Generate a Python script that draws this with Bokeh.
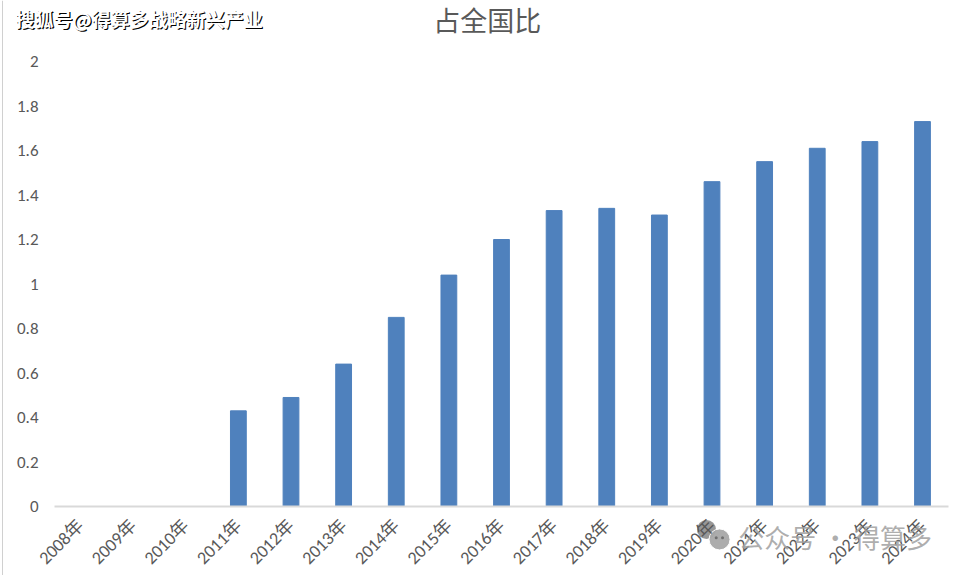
from bokeh.plotting import figure
from bokeh.models import Range1d, Label, FixedTicker, Span
from bokeh.embed import file_html
from bokeh.resources import INLINE
import math

years = ["2008年", "2009年", "2010年", "2011年", "2012年", "2013年", "2014年", "2015年",
         "2016年", "2017年", "2018年", "2019年", "2020年", "2021年", "2022年", "2023年", "2024年"]
share = [0, 0, 0, 0.43, 0.49, 0.64, 0.85, 1.04, 1.20, 1.33, 1.34, 1.31, 1.46, 1.55, 1.61, 1.64, 1.73]
y_ticks = [0, 0.2, 0.4, 0.6, 0.8, 1.0, 1.2, 1.4, 1.6, 1.8, 2.0]
title_text = "占全国比"
watermark_top = "搜狐号@得算多战略新兴产业"
watermark_bottom = "公众号 · 得算多"

xs = list(range(len(years)))
FONT = "Calibri, Carlito, Lato, 'Noto Sans CJK SC'"
CJK = "'Noto Sans CJK SC'"

# frame covers the whole canvas; axes are pinned with fixed_location
p = figure(width=950, height=575, output_backend="svg", toolbar_location=None,
           x_range=Range1d(-1.5202, 16.532), y_range=Range1d(-0.3101, 2.2742),
           min_border=0)
p.outline_line_color = None
p.grid.visible = False
p.background_fill_color = "white"
p.border_fill_color = "white"

p.vbar(x=xs, top=share, width=0.3, color="#4f81bd")

# y axis
p.yaxis.fixed_location = -0.494
p.yaxis.ticker = FixedTicker(ticks=y_ticks)
p.yaxis.axis_line_color = None
p.yaxis.major_tick_line_color = None
p.yaxis.minor_tick_line_color = None
p.yaxis.major_label_text_color = "#595959"
p.yaxis.major_label_text_font = FONT
p.yaxis.major_label_text_font_size = "17px"
p.yaxis.major_label_standoff = 10
p.yaxis.formatter.use_scientific = False

# x axis
p.xaxis.fixed_location = 0
p.xaxis.bounds = (-0.494, 16.5)
p.xaxis.ticker = FixedTicker(ticks=xs)
p.xaxis.major_label_overrides = {i: y for i, y in zip(xs, years)}
p.xaxis.axis_line_color = "#d9d9d9"
p.xaxis.axis_line_width = 2
p.xaxis.major_tick_line_color = None
p.xaxis.minor_tick_line_color = None
p.xaxis.major_label_orientation = math.pi / 4
p.xaxis.major_label_text_color = "#595959"
p.xaxis.major_label_text_font = FONT
p.xaxis.major_label_text_font_size = "18px"
p.xaxis.major_label_standoff = 10

# left border line of the picture
p.add_layout(Span(location=-1.482, dimension="height", line_color="#d0d0d0", line_width=1))

# title
p.add_layout(Label(x=7.73, y=2.187, text=title_text, text_align="center", text_baseline="middle",
                   text_font=CJK, text_font_size="27px", text_color="#595959"))

# top-left watermark (shadow + white)
for dx, col in [(1.2, "#000000"), (0, "#ffffff")]:
    p.add_layout(Label(x=-1.235 + dx / 52.625, y=2.195 - dx / 222.5, text=watermark_top,
                       text_align="left", text_baseline="middle",
                       text_font=CJK, text_font_style="bold",
                       text_font_size="19px", text_color=col))

# bottom-right watermark (icon + text)
p.scatter(x=[11.895], y=[-0.103], size=19, fill_color="#8c8c8c", line_color=None, alpha=0.9)
p.scatter(x=[12.143], y=[-0.148], size=21, fill_color="#a8a8a8", line_color="white",
          line_width=1, alpha=0.95)
p.scatter(x=[12.08, 12.20], y=[-0.140, -0.140], size=3, fill_color="#707070", line_color=None)
p.add_layout(Label(x=12.50, y=-0.137, text=watermark_bottom, text_align="left",
                   text_baseline="middle", text_font=CJK,
                   text_font_size="26px", text_color="#a0a0a0", text_alpha=0.85))

open("out.html", "w").write(file_html(p, INLINE))
